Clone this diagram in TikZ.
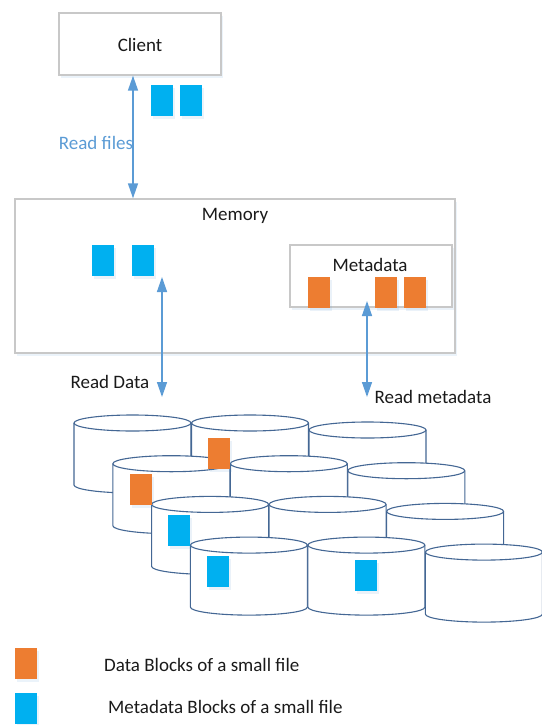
\documentclass[tikz,border=0pt]{standalone}
\usepackage{fontspec}
\setmainfont{Carlito}
\usetikzlibrary{arrows.meta,shadows}

\definecolor{blockblue}{HTML}{00B0F0}
\definecolor{blockorange}{HTML}{ED7D31}
\definecolor{arrowblue}{HTML}{5B9BD5}
\definecolor{diskline}{RGB}{68,103,148}
\definecolor{boxgray}{RGB}{200,200,200}
\definecolor{txt}{RGB}{26,26,26}

\begin{document}
\begin{tikzpicture}[x=1pt, y=-1pt,
  font=\fontsize{19}{22}\selectfont, text=txt,
  box/.style={draw=boxgray, line width=1.3pt, fill=white, inner sep=0pt,
    drop shadow={shadow xshift=2pt, shadow yshift=-3pt, opacity=.12, fill=arrowblue}},
  blk/.style={rectangle, minimum width=22pt, minimum height=31pt, inner sep=0pt,
    drop shadow={shadow xshift=2pt, shadow yshift=-3pt, opacity=.12, fill=arrowblue}},
  arr/.style={arrowblue, line width=1.4pt,
    {Triangle[length=15pt, width=10pt]}-{Triangle[length=15pt, width=10pt]}},
  cyl/.style={draw=diskline, line width=1.1pt, fill=white}]
\useasboundingbox (0,0) rectangle (541,725);

% client and memory
\node[box, minimum width=162pt, minimum height=62pt] (client) at (140,44) {};
\node (clientlbl) at (140,45) {Client};
\node[box, minimum width=440pt, minimum height=154pt] (memory) at (235,276) {};
\node (memorylbl) at (235,216) {Memory};
\node[box, minimum width=162pt, minimum height=62pt] (meta) at (371,276) {};
\node (metalbl) at (370,265) {Metadata};

% blocks
\node[blk, fill=blockblue] (c1) at (162,100.5) {};
\node[blk, fill=blockblue] (c2) at (191,100.5) {};
\node[blk, fill=blockblue] (m1) at (103,260.5) {};
\node[blk, fill=blockblue] (m2) at (143,260.5) {};
\node[blk, fill=blockorange] (d1) at (319,292.5) {};
\node[blk, fill=blockorange] (d2) at (386,292.5) {};
\node[blk, fill=blockorange] (d3) at (415,292.5) {};

% arrows
\coordinate (rdtop) at (162,277);
\coordinate (rdbot) at (162,397);
\coordinate (rmtop) at (367,301);
\coordinate (rmbot) at (367,397);
\draw[arr] (client.south -| 133,0) -- (memory.north -| 133,0);
\draw[arr] (rdtop) -- (rdbot);
\draw[arr] (rmtop) -- (rmbot);
\node[text=arrowblue] (rflbl) at (96,143) {Read files};
\node (rdlbl) at (110,382) {Read Data};
\node (rmlbl) at (433,397) {Read metadata};

% disks
\foreach \r in {0,...,3}
  \foreach \c/\dy in {0/0, 1/0, 2/7} {
    \draw[cyl, shift={(74+38.8*\r+117.5*\c, 423+40.7*\r+\dy)}]
      (0,0) -- (0,62) arc[start angle=180, end angle=0, x radius=58.5, y radius=8]
      -- (117,0) arc[start angle=360, end angle=180, x radius=58.5, y radius=8]
      -- cycle;
    \draw[diskline, line width=1.1pt, shift={(74+38.8*\r+117.5*\c, 423+40.7*\r+\dy)}]
      (0,0) arc[start angle=180, end angle=0, x radius=58.5, y radius=8];
  }

\node[blk, fill=blockorange] (k1) at (219,453.5) {};
\node[blk, fill=blockorange] (k2) at (141,489.5) {};
\node[blk, fill=blockblue] (k3) at (179,530.5) {};
\node[blk, fill=blockblue] (k4) at (218,571.5) {};
\node[blk, fill=blockblue] (k5) at (366,575.5) {};

% legend
\node[blk, fill=blockorange] (lg1) at (26,663) {};
\node[blk, fill=blockblue] (lg2) at (26,708) {};
\node[anchor=west, inner sep=0pt] (lgt1) at (104,665) {Data Blocks of a small file};
\node[anchor=west, inner sep=0pt] (lgt2) at (108,707) {Metadata Blocks of a small file};

\end{tikzpicture}
\end{document}
